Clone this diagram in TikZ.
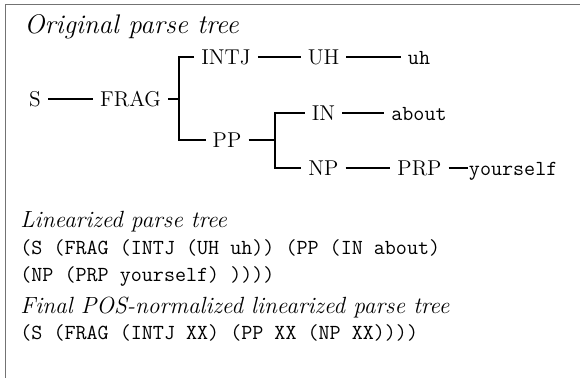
\documentclass[tikz,border=0pt]{standalone}
\begin{document}
\begin{tikzpicture}[x=0.5128pt,y=-0.5128pt,
  lbl/.style={font=\fontsize{11}{13}\selectfont, text height=7.5pt, text depth=0pt, inner ysep=0pt, inner xsep=3.5pt, anchor=center},
  leaf/.style={lbl, font=\fontsize{11}{13}\selectfont\ttfamily},
  edge/.style={line width=0.6pt},
  head/.style={font=\fontsize{12}{14}\selectfont\itshape, anchor=base west, inner sep=0pt},
  code/.style={font=\fontsize{11}{13}\selectfont\ttfamily, anchor=base west, inner sep=0pt},
  frame/.style={draw=black!55, line width=0.7pt}]
\useasboundingbox (0,0) rectangle (580,378);
\draw[frame] (580,4.5) -- (5.5,4.5) -- (5.5,378);
\node[head, font=\fontsize{13.8}{16}\selectfont\itshape] (h1) at (24,33) {Original parse tree};
% tree
\node[lbl] (S) at (35,99) {S};
\node[lbl] (FRAG) at (130.5,99) {FRAG};
\node[lbl] (INTJ) at (226,57) {INTJ};
\node[lbl] (UH) at (323.5,57) {UH};
\node[leaf] (uh) at (419,57) {uh};
\node[lbl] (PP) at (227,140) {PP};
\node[lbl] (IN) at (323.5,113) {IN};
\node[leaf] (about) at (419,113) {about};
\node[lbl] (NP) at (323.5,168) {NP};
\node[lbl] (PRP) at (419.5,168) {PRP};
\node[leaf, inner xsep=0.3pt, anchor=west] (yourself) at (468,168) {yourself};
\coordinate (b1) at (179,99);
\coordinate (b2) at (275,140);
\draw[edge] (S.east) -- (FRAG.west);
\draw[edge] (FRAG.east) -- (b1);
\draw[edge] (INTJ.west) -| (b1) |- (PP.west);
\draw[edge] (INTJ.east) -- (UH.west);
\draw[edge] (UH.east) -- (uh.west);
\draw[edge] (PP.east) -- (b2);
\draw[edge] (IN.west) -| (b2) |- (NP.west);
\draw[edge] (IN.east) -- (about.west);
\draw[edge] (NP.east) -- (PRP.west);
\draw[edge] (PRP.east) -- (yourself.west);
% linearized
\node[head] (h2) at (20,227) {Linearized parse tree};
\node[code] (l1) at (20,254) {(S (FRAG (INTJ (UH uh)) (PP (IN about)};
\node[code] (l2) at (20,281) {(NP (PRP yourself) ))))};
\node[head] (h3) at (20,313) {Final POS-normalized linearized parse tree};
\node[code] (l3) at (20,339) {(S (FRAG (INTJ XX) (PP XX (NP XX))))};
\end{tikzpicture}
\end{document}
